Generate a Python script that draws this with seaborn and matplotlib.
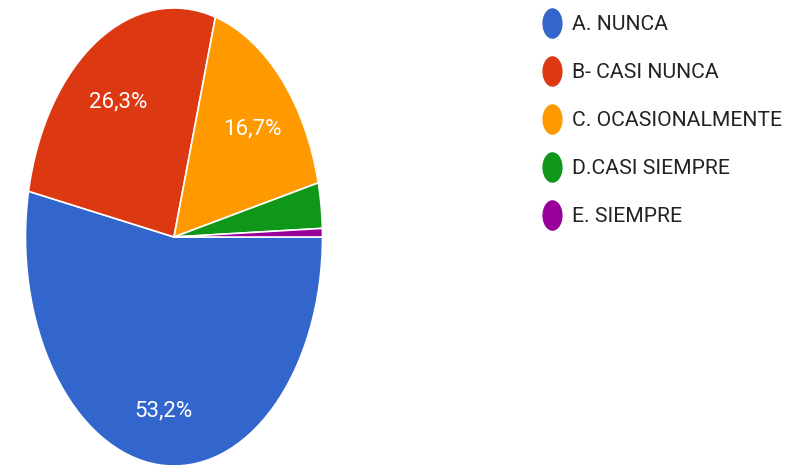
import matplotlib
matplotlib.use("Agg")
import matplotlib.pyplot as plt
import seaborn as sns
import numpy as np
from matplotlib.path import Path
from matplotlib.transforms import Affine2D

categories = ["A. NUNCA", "B- CASI NUNCA", "C. OCASIONALMENTE", "D.CASI SIEMPRE", "E. SIEMPRE"]
values = [53.2, 26.3, 16.7, 3.2, 0.6]
pct_labels = ["53,2%", "26,3%", "16,7%", "", ""]
colors = ["#3366cc", "#dc3912", "#ff9900", "#109618", "#990099"]

sns.set_style("white")
plt.rcParams["font.family"] = ["Roboto", "DejaVu Sans"]
palette = sns.color_palette(colors)

fig = plt.figure(figsize=(8.1, 4.65), dpi=100)
W, H = 810, 465
cx, cy, rx, ry = 174, 237, 148.5, 229
ax = fig.add_axes([(cx - rx) / W, (H - cy - ry) / H, 2 * rx / W, 2 * ry / H])

wedges, texts = ax.pie(values, colors=palette, startangle=0, counterclock=False,
                       wedgeprops=dict(edgecolor="white", linewidth=1.2),
                       labels=None, radius=1.0)
ax.set_aspect("auto")
ax.set_xlim(-1, 1)
ax.set_ylim(-1, 1)
ax.axis("off")

# percentage labels
total = sum(values)
start = 0.0
for v, lab in zip(values, pct_labels):
    mid = start - v / total * 360 / 2
    start -= v / total * 360
    if lab:
        r = 0.73
        ax.text(r * np.cos(np.radians(mid)), r * np.sin(np.radians(mid)) - 0.035, lab,
                ha="center", va="center", color="white", fontsize=16)

# legend
lax = fig.add_axes([0, 0, 1, 1])
lax.set_xlim(0, W)
lax.set_ylim(H, 0)
lax.axis("off")
marker = Path.unit_circle().transformed(Affine2D().scale(0.66, 1.0))
ys = [23, 71, 119, 167, 215]
for y, c, lab in zip(ys, palette, categories):
    lax.scatter([552], [y], marker=marker, s=22 ** 2, color=c, linewidths=0)
    lax.text(572, y + 1, lab, ha="left", va="center", fontsize=15.2, color="#222222")

fig.savefig("out.png", dpi=100)
